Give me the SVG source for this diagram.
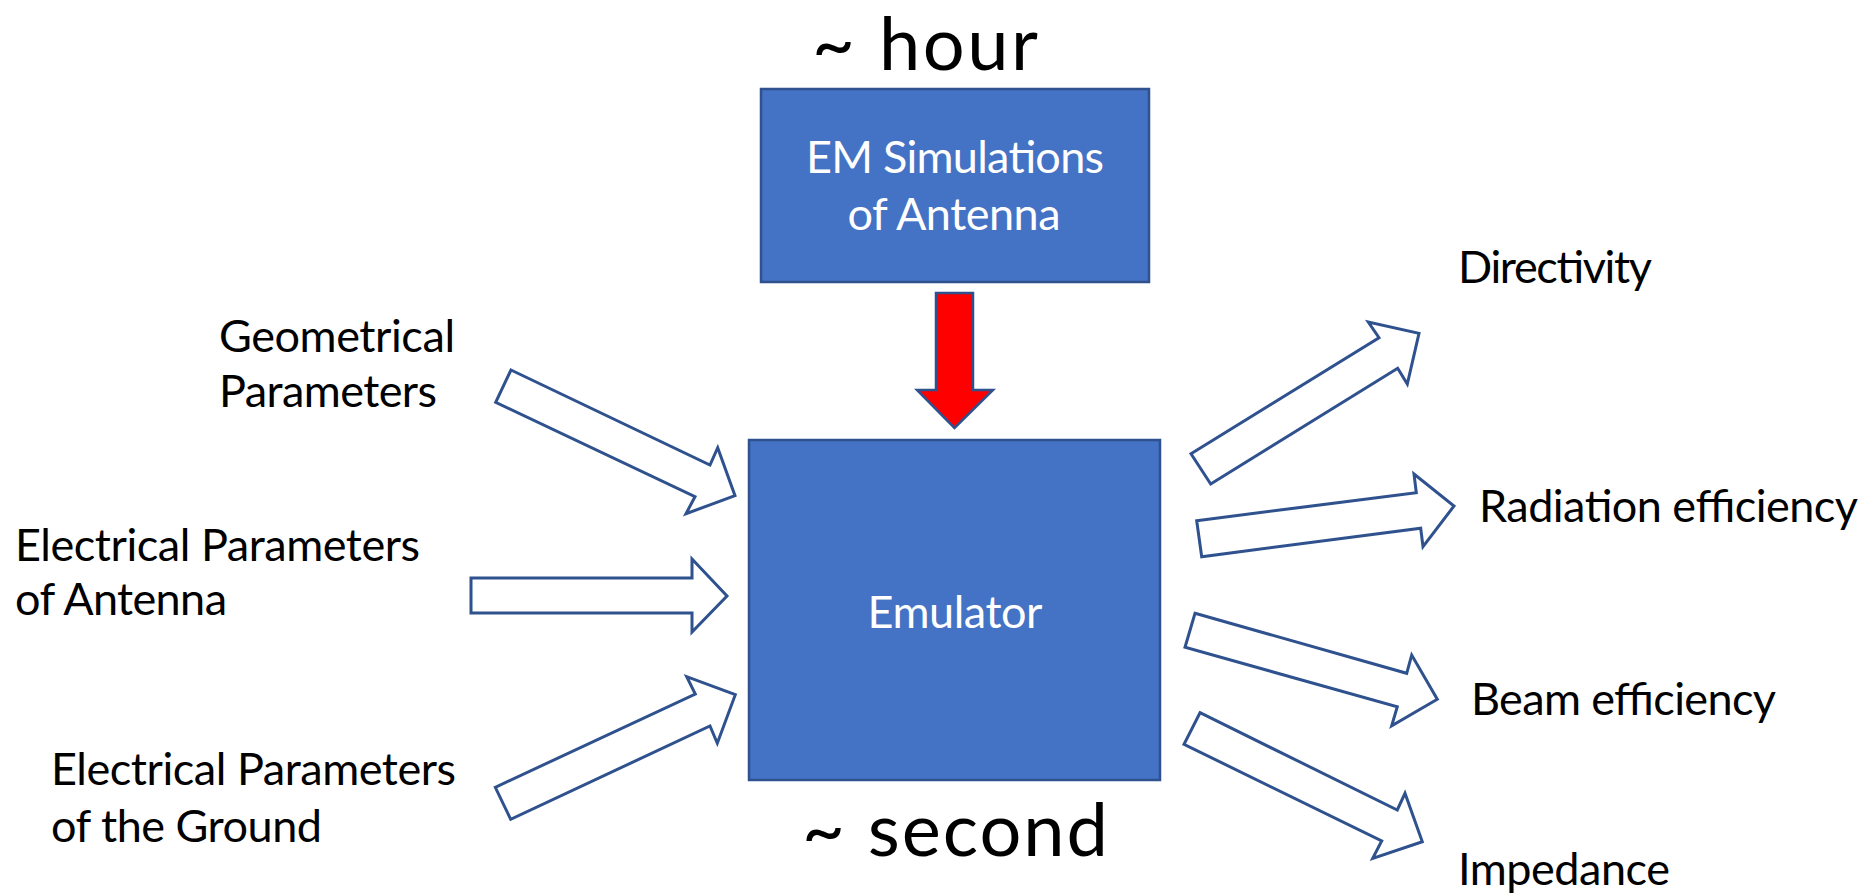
<svg xmlns="http://www.w3.org/2000/svg" width="1872" height="894" viewBox="0 0 1872 894">
<style>
.box{fill:#4472C4;stroke:#2F528F;stroke-width:2.5}
.out{fill:#FFFFFF;stroke:#2F528F;stroke-width:3;stroke-linejoin:miter}
.red{fill:#FF0000;stroke:#2F528F;stroke-width:2.5}
.lbl{font-family:Lato,"Open Sans","Liberation Sans",sans-serif;font-size:45px;fill:#000}
.in{font-family:Lato,"Open Sans","Liberation Sans",sans-serif;font-size:45px;fill:#fff;text-anchor:middle}
.big{font-family:Lato,"Open Sans","Liberation Sans",sans-serif;font-size:74px;fill:#000;text-anchor:middle}
</style>
<rect width="1872" height="894" fill="#fff"/>
<text class="big" x="925" y="70" textLength="226">~ hour</text>
<text class="big" x="955" y="856" textLength="306">~ second</text>
<g id="em-simulations">
<rect class="box" x="761" y="89" width="388" height="193"/>
<text class="in" x="955" y="173" textLength="298">EM Simulations</text>
<text class="in" x="954" y="230" textLength="213">of Antenna</text>
</g>
<g id="emulator">
<rect class="box" x="749" y="440" width="411" height="340"/>
<text class="in" x="955" y="628" textLength="175">Emulator</text>
</g>
<g id="geometrical"><text class="lbl" x="219" y="352" textLength="236">Geometrical</text><text class="lbl" x="219" y="407" textLength="218">Parameters</text></g>
<g id="elec-antenna"><text class="lbl" x="15" y="561" textLength="405">Electrical Parameters</text><text class="lbl" x="15" y="615" textLength="212">of Antenna</text></g>
<g id="elec-ground"><text class="lbl" x="51" y="785" textLength="405">Electrical Parameters</text><text class="lbl" x="51" y="842" textLength="271">of the Ground</text></g>
<g id="directivity"><text class="lbl" x="1458" y="283" textLength="194">Directivity</text></g>
<g id="radiation"><text class="lbl" x="1479" y="522" textLength="379">Radiation efficiency</text></g>
<g id="beam"><text class="lbl" x="1471" y="715" textLength="305">Beam efficiency</text></g>
<g id="impedance"><text class="lbl" x="1458" y="885" textLength="212">Impedance</text></g>
<g id="connectors">
<polygon class="red" points="936,293 973,293 973,390 993,390 954.5,428 917,390 936,390"/>
<polygon class="out" points="511,370 710,465 717.7,447.7 735,495.7 686,513.7 695,496.7 495.7,402.3"/>
<polygon class="out" points="471,578 692,578 692,559 727,596 692,632 692,613 471,613"/>
<polygon class="out" points="495.3,787.3 695.3,694 686.7,676.7 735.3,694.7 717.3,743.3 710,726 510.7,819.3"/>
<polygon class="out" points="1191,453.7 1379,337.7 1368.3,322 1419,333.3 1407.3,384 1397.7,368.3 1210.7,484"/>
<polygon class="out" points="1196.7,520.7 1416.3,492.7 1414,474 1454,506 1423,546.7 1420.7,528.3 1201.7,556.7"/>
<polygon class="out" points="1195,613.3 1406.7,673.3 1411.7,655 1437.3,699.3 1391.7,725.7 1397.3,706.7 1185,647.3"/>
<polygon class="out" points="1200,712.7 1397.3,810 1405,793.3 1422.3,841.7 1372.7,858.3 1381.7,841 1184,744.3"/>
</g>
</svg>
